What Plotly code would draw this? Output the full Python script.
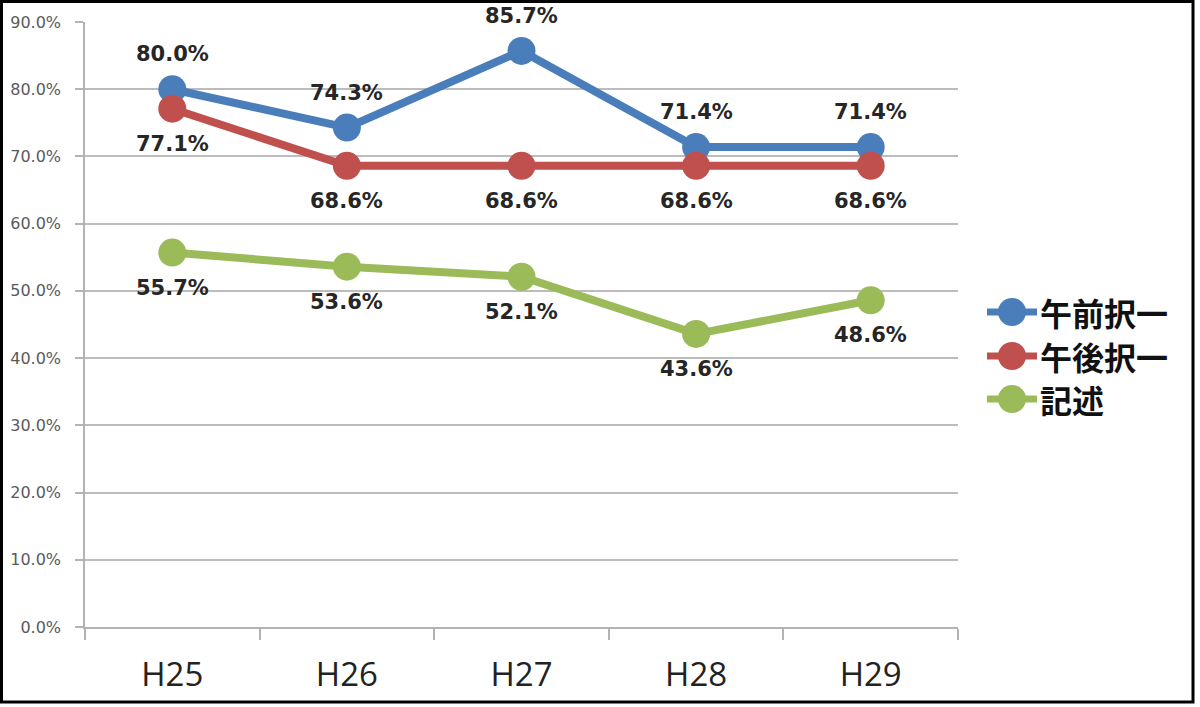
import plotly.graph_objects as go

categories = ["H25", "H26", "H27", "H28", "H29"]
series_names = ["午前択一", "午後択一", "記述"]
am_values = [0.800, 0.743, 0.857, 0.714, 0.714]
pm_values = [0.771, 0.686, 0.686, 0.686, 0.686]
essay_values = [0.557, 0.536, 0.521, 0.436, 0.486]
colors = ["#4a7ebb", "#c0504d", "#9bbb59"]
label_side = [[1, 1, 1, 1, 1], [-1, -1, -1, -1, -1], [-1, -1, -1, -1, -1]]  # 1 = above, -1 = below

W, H = 1200, 707
ML, MR, MT, MB = 85, 0, 22, 80
plot_w = W - ML - MR
main_right = 958
dom_main = (main_right - ML) / plot_w

fig = go.Figure()
all_series = [am_values, pm_values, essay_values]

for name, vals, col in zip(series_names, all_series, colors):
    fig.add_trace(go.Scatter(
        x=categories, y=vals, mode="lines+markers", name=name,
        line=dict(color=col, width=8),
        marker=dict(color=col, size=28),
        showlegend=False, cliponaxis=False,
    ))

annotations = []
for vals, sides in zip(all_series, label_side):
    for c, v, s in zip(categories, vals, sides):
        annotations.append(dict(
            x=c, y=v, xref="x", yref="y", text=f"{v:.1%}", showarrow=False,
            yshift=35 * s,
            font=dict(family="DejaVu Sans", size=21, color="#262626", weight="bold"),
        ))

# custom legend drawn on an overlay axis measured in pixels
leg_y = [312, 356, 399]
leg_x = 1012
for name, col, ly in zip(series_names, colors, leg_y):
    fig.add_trace(go.Scatter(
        x=[leg_x - 25, leg_x + 25], y=[ly, ly], xaxis="x2", yaxis="y2",
        mode="lines", line=dict(color=col, width=7), showlegend=False, hoverinfo="skip",
    ))
    fig.add_trace(go.Scatter(
        x=[leg_x], y=[ly], xaxis="x2", yaxis="y2",
        mode="markers", marker=dict(color=col, size=28), showlegend=False, hoverinfo="skip",
    ))
    annotations.append(dict(
        x=leg_x + 26, y=ly, xref="x2", yref="y2", text=name, showarrow=False,
        xanchor="left", yanchor="middle",
        font=dict(family="Noto Sans CJK JP", size=32, color="#111111", weight="bold"),
    ))

fig.update_layout(
    width=W, height=H,
    margin=dict(l=ML, r=MR, t=MT, b=MB),
    paper_bgcolor="white", plot_bgcolor="white",
    annotations=annotations,
    xaxis=dict(
        domain=[0, dom_main], type="category", range=[-0.5, 4.5],
        showgrid=False, showline=True, linecolor="#b3b3b3", linewidth=1.5,
        ticks="outside", tickson="boundaries", ticklen=11, tickcolor="#b3b3b3", tickwidth=1.5,
        tickfont=dict(family="Open Sans", size=33, color="#222222"),
        ticklabelstandoff=18,
    ),
    yaxis=dict(
        range=[0, 0.9], dtick=0.1, tickformat=".1%",
        showgrid=True, gridcolor="#bcbcbc", gridwidth=1.5,
        showline=True, linecolor="#b3b3b3", linewidth=1.5,
        ticks="outside", ticklen=8, tickcolor="#b3b3b3", tickwidth=1.5,
        tickfont=dict(family="DejaVu Sans", size=16, color="#5a5a5a"),
        ticklabelstandoff=11, zeroline=False,
    ),
    xaxis2=dict(domain=[dom_main, 1], range=[main_right, W], visible=False,
                anchor="y2", fixedrange=True),
    yaxis2=dict(domain=[0, 1], range=[H - MB, MT], visible=False,
                anchor="x2", fixedrange=True),
    shapes=[dict(
        type="rect", xref="paper", yref="paper",
        xsizemode="pixel", ysizemode="pixel", xanchor=0, yanchor=0,
        x0=1.5 - ML, x1=1193 - ML, y0=-(702 - (H - MB)), y1=(H - MB) - 1.5,
        line=dict(color="black", width=3), layer="above",
    )],
)

fig.write_html("out.html")
